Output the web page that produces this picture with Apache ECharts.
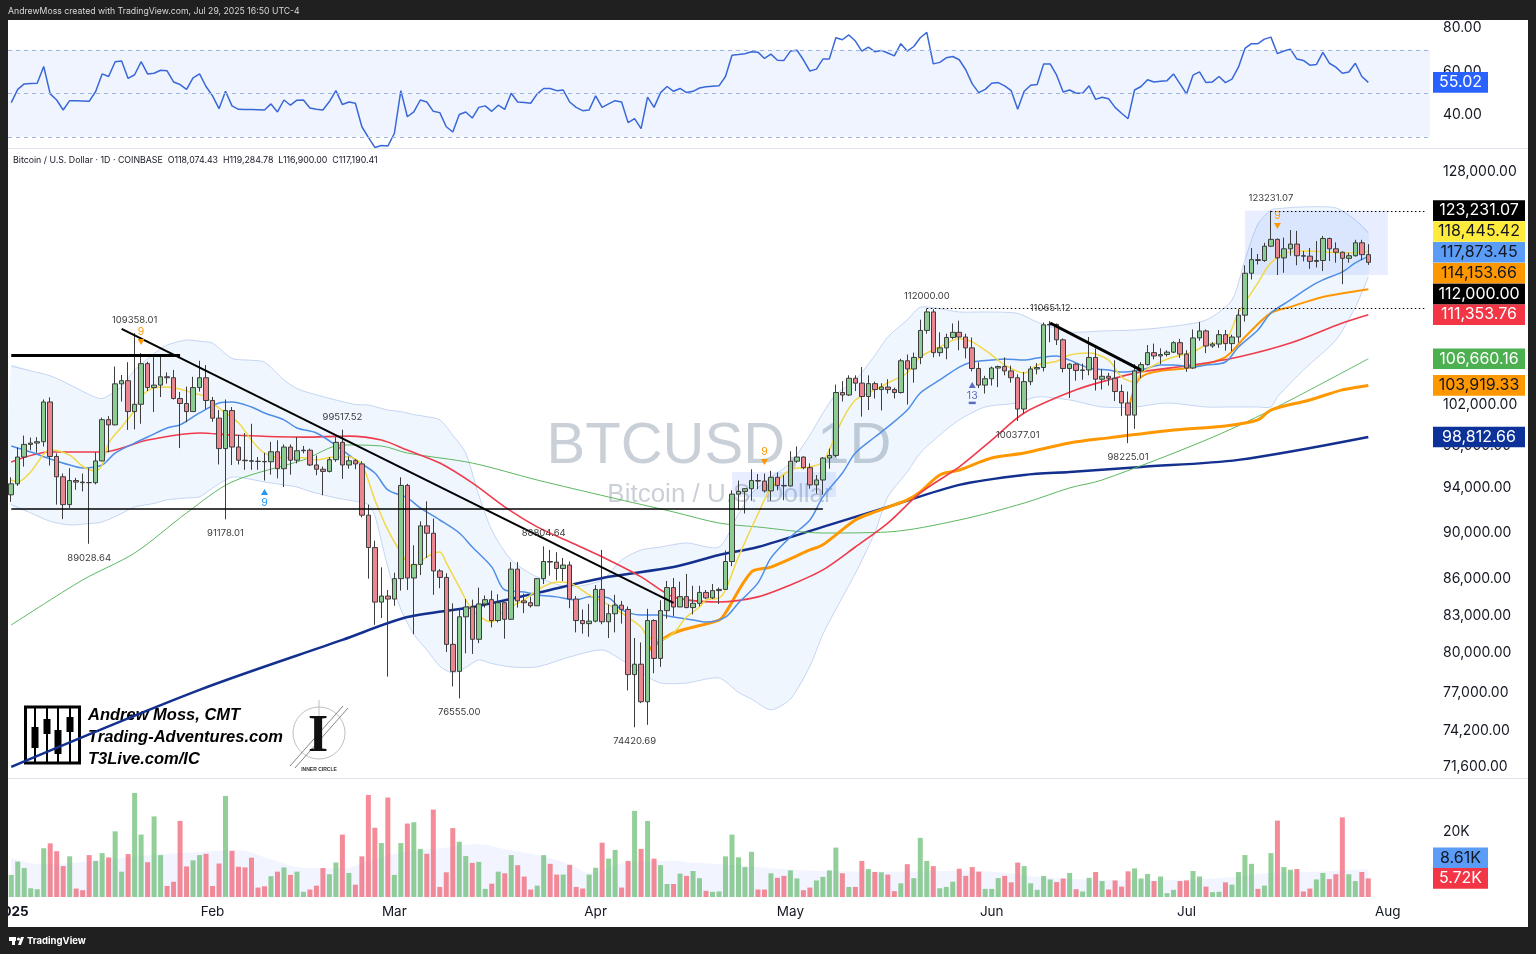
<!DOCTYPE html>
<html>
<head>
<meta charset="utf-8">
<title>BTCUSD 1D</title>
<script src="https://cdn.jsdelivr.net/npm/echarts@6.0.0/dist/echarts.min.js"></script>
<style>
html, body { margin: 0; padding: 0; background: #202020; }
#chart { width: 1536px; height: 954px; }
</style>
</head>
<body>
<div id="chart"></div>
<script>
// ---------- daily candles, 2025-01-01 .. 2025-07-29 (Coinbase BTC/USD) ----------
const opens = [
  93390, 94400, 96900, 98100, 98230, 98360, 102250, 96950, 95050, 92500,
  94700, 94560, 94520, 94500, 96530, 100500, 99990, 104080, 104400, 101300,
  102020, 106150, 103700, 103950, 104800, 104700, 102600, 102100, 101300, 103700,
  104700, 102400, 100650, 97700, 101400, 97850, 96600, 96550, 96500, 96480,
  96450, 97400, 95800, 97850, 96600, 97500, 97550, 96150, 95750, 95550,
  96650, 98300, 96150, 96550, 96250, 91550, 88700, 84100, 84600, 84350,
  86050, 94250, 86100, 87250, 90600, 89950, 86700, 86150, 80700, 78600,
  82900, 83700, 81100, 83950, 84300, 82600, 84050, 82700, 86850, 84200,
  84050, 83800, 86050, 87500, 87450, 86900, 87200, 84350, 82600, 82350,
  82550, 85150, 82500, 83150, 83850, 83500, 78350, 79150, 76300, 82600,
  79600, 83400, 85300, 83700, 84550, 83650, 84000, 84900, 84450, 85050,
  85150, 87500, 93450, 93700, 93950, 94700, 94650, 93750, 95000, 94250,
  94200, 96500, 96900, 95900, 94300, 94750, 96800, 97050, 103200, 102950,
  104650, 104150, 102800, 104100, 103500, 103750, 103500, 103200, 106450, 105600,
  106800, 109650, 111650, 107300, 107800, 108900, 109450, 108950, 107800, 105650,
  103950, 104600, 105700, 105850, 105400, 104700, 101550, 104300, 105600, 105750,
  110250, 110300, 108650, 105650, 106100, 105450, 105500, 106800, 104550, 104850,
  104650, 103300, 102150, 100950, 105400, 106050, 107300, 106950, 107100, 107350,
  108350, 107150, 105700, 108850, 109600, 108000, 108200, 109200, 108250, 108950,
  111300, 115950, 117500, 117400, 119050, 119850, 117700, 118750, 119300, 117950,
  117900, 117300, 117400, 119950, 118750, 118350, 117650, 117950, 119450, 118074.43
];
const highs = [
  95000, 97800, 98950, 98750, 98800, 102500, 102720, 97250, 95350, 95850,
  94950, 95350, 95850, 97350, 100700, 100850, 105850, 104980, 106300, 109358.01,
  107250, 106350, 106850, 107100, 105250, 105500, 103250, 103800, 104800, 106450,
  106000, 102750, 101450, 102500, 101750, 99000, 99200, 100100, 96900, 97300,
  98350, 98500, 98100, 98100, 98800, 97950, 97700, 97050, 96000, 96900,
  98800, 99517.52, 96950, 96700, 96500, 92500, 89300, 87000, 85100, 86550,
  95000, 94400, 88900, 91000, 92800, 91250, 86850, 86500, 84000, 83600,
  84350, 84300, 85300, 84650, 85050, 84750, 84050, 87450, 87450, 84800,
  84550, 86100, 88804.64, 88500, 88300, 87800, 87500, 84600, 83500, 83950,
  85500, 88500, 83900, 84700, 84200, 83750, 81200, 80850, 83550, 82700,
  84250, 85850, 86100, 85800, 86450, 85450, 85450, 85100, 85600, 85300,
  88450, 93800, 94700, 94000, 95750, 95300, 95350, 95600, 95450, 95200,
  97450, 97900, 96950, 96300, 95200, 96900, 97700, 104000, 104350, 104950,
  104950, 105800, 104950, 104300, 104150, 104550, 103700, 106650, 107100, 107300,
  110800, 112000, 111950, 109450, 109300, 110400, 110700, 109300, 108900, 106300,
  104900, 105850, 105950, 106800, 105950, 105050, 105300, 105900, 106200, 110500,
  110651.12, 110400, 108800, 106200, 106200, 106150, 108950, 107750, 105550, 105200,
  106500, 104000, 103300, 106100, 106300, 108100, 108250, 107750, 107550, 108500,
  108750, 107550, 109750, 110550, 109750, 108400, 109700, 109700, 109200, 111950,
  116850, 118850, 118150, 119450, 123231.07, 119950, 120050, 120950, 120850, 118500,
  118850, 119650, 120250, 120050, 119500, 118450, 118300, 119800, 119800, 119284.78
];
const lows = [
  92750, 94200, 96000, 97550, 97300, 97900, 96100, 92500, 91200, 92200,
  93850, 93700, 89028.64, 94350, 96500, 97350, 99950, 102300, 99500, 99550,
  100100, 103350, 101250, 102750, 104100, 102500, 97750, 100250, 101300, 103300,
  101550, 100300, 96200, 91178.01, 96150, 96200, 95700, 95700, 95700, 94700,
  95250, 94900, 94100, 95250, 96300, 97250, 96050, 95200, 93350, 95450,
  96450, 94850, 95800, 95750, 91350, 86050, 82250, 82800, 78200, 83800,
  85050, 85100, 81500, 86350, 87800, 84700, 85250, 80100, 77450, 76555,
  80000, 79950, 80800, 83650, 82050, 82450, 81150, 82650, 83650, 83200,
  83650, 83800, 85600, 86300, 85900, 85850, 83600, 81650, 81550, 81300,
  82450, 82300, 81200, 81650, 82350, 77150, 74420.69, 76200, 74600, 78450,
  78950, 82750, 82950, 83700, 83600, 83100, 83750, 84350, 84350, 83950,
  85150, 87100, 92000, 91700, 92850, 93900, 93600, 92850, 93800, 92900,
  94150, 96350, 95750, 93950, 93500, 93400, 95800, 96900, 102300, 102850,
  103350, 100800, 101450, 102600, 101400, 103100, 102600, 103100, 102000, 104200,
  106100, 109300, 106800, 106900, 106600, 108700, 107550, 106700, 105350, 103650,
  103100, 103900, 103750, 104950, 104200, 100377.01, 101100, 103950, 105050, 105350,
  108400, 108100, 105250, 102650, 104400, 104500, 104950, 103400, 103500, 103900,
  102350, 100850, 98225.01, 99600, 104650, 105950, 106600, 106100, 106900, 107250,
  106750, 105300, 105600, 108550, 107250, 107800, 107800, 107500, 107450, 108350,
  110600, 115250, 116950, 117250, 118950, 115750, 116000, 117950, 116850, 117300,
  116450, 116600, 116200, 117350, 117150, 114723, 117150, 117850, 117450, 116900
];
const closes = [
  94400, 96900, 98100, 98230, 98360, 102250, 96950, 95050, 92500, 94700,
  94560, 94500, 94500, 96530, 100500, 99990, 104080, 104400, 101300, 102020,
  106150, 103700, 103950, 104800, 104700, 102600, 102100, 101300, 103700, 104700,
  102400, 100650, 97700, 101400, 97850, 96600, 96550, 96500, 96480, 96450,
  97400, 95800, 97850, 96600, 97500, 97550, 96150, 95750, 95550, 96650,
  98300, 96150, 96550, 96250, 91550, 88700, 84100, 84600, 84350, 86050,
  94250, 86100, 87250, 90600, 89950, 86700, 86150, 80700, 78600, 82900,
  83700, 81100, 83950, 84300, 82600, 84050, 82700, 86850, 84200, 84050,
  83800, 86050, 87500, 87450, 86900, 87200, 84350, 82600, 82350, 82550,
  85150, 82500, 83150, 83850, 83500, 78350, 79150, 76300, 82600, 79600,
  83400, 85300, 83700, 84550, 83650, 84000, 84900, 84450, 85050, 85150,
  87500, 93450, 93700, 93950, 94700, 94650, 93750, 95000, 94250, 94200,
  96500, 96900, 95900, 94300, 94750, 96800, 97050, 103200, 102950, 104650,
  104150, 102800, 104100, 103500, 103750, 103500, 103200, 106450, 105600, 106800,
  109650, 111650, 107300, 107800, 108900, 109450, 108950, 107800, 105650, 103950,
  104600, 105700, 105850, 105400, 104700, 101550, 104300, 105600, 105750, 110250,
  110300, 108650, 105650, 106100, 105450, 105500, 106800, 104550, 104850, 104650,
  103300, 102150, 100950, 105400, 106050, 107300, 106950, 107100, 107350, 108350,
  107150, 105700, 108850, 109600, 108000, 108200, 109200, 108250, 108950, 111300,
  115950, 117500, 117400, 119050, 119850, 117700, 118750, 119300, 117950, 117900,
  117300, 117400, 119950, 118750, 118350, 117650, 117950, 119450, 118074.43, 117190.41
];

// daily volume, thousands of BTC
const volumes = [
  6.8, 10.9, 8.9, 2.7, 2.4, 15.0, 16.5, 14.1, 9.5, 12.5,
  2.6, 2.1, 12.9, 11.1, 13.5, 12.2, 20.2, 7.8, 13.2, 32.0,
  19.2, 10.7, 24.8, 12.9, 3.4, 4.7, 23.4, 9.4, 11.3, 12.9,
  13.3, 3.4, 10.3, 31.1, 14.2, 9.3, 9.1, 12.1, 2.9, 3.3,
  6.4, 7.8, 9.1, 6.8, 7.8, 1.6, 2.3, 3.5, 8.9, 7.0,
  10.6, 19.2, 7.4, 3.8, 12.5, 31.4, 21.3, 16.6, 30.6, 6.8,
  16.6, 22.6, 23.0, 14.8, 13.3, 26.9, 3.1, 7.6, 21.2, 17.0,
  12.6, 10.5, 10.8, 2.5, 4.1, 7.8, 7.3, 12.9, 9.8, 6.3,
  2.3, 3.5, 12.9, 10.2, 6.9, 6.9, 9.9, 3.1, 2.6, 6.9,
  9.0, 16.7, 11.8, 14.5, 2.9, 11.1, 26.5, 14.8, 23.4, 11.8,
  9.8, 4.0, 4.0, 7.2, 6.5, 8.0, 5.8, 1.9, 1.6, 1.7,
  12.5, 19.2, 12.2, 9.2, 13.9, 2.3, 2.3, 7.3, 5.9, 6.5,
  8.2, 5.7, 2.1, 2.9, 5.1, 6.2, 8.2, 15.2, 7.3, 3.1,
  3.1, 11.1, 8.6, 7.7, 7.6, 6.9, 1.8, 4.2, 10.1, 5.8,
  18.2, 11.1, 9.5, 2.7, 3.1, 4.7, 8.7, 6.5, 9.2, 7.8,
  2.5, 2.5, 5.8, 6.5, 4.5, 10.6, 9.5, 4.2, 2.2, 6.5,
  5.4, 4.6, 5.7, 7.4, 2.4, 1.7, 5.9, 7.7, 4.9, 2.3,
  5.1, 3.2, 7.9, 8.8, 5.7, 7.1, 4.9, 6.3, 1.2, 2.2,
  4.9, 5.1, 8.0, 6.3, 3.2, 1.5, 1.6, 4.5, 3.8, 7.7,
  12.9, 10.2, 2.5, 3.5, 13.5, 23.5, 9.2, 8.4, 8.6, 1.7,
  2.6, 5.4, 7.4, 5.5, 7.0, 24.5, 7.0, 4.9, 7.7, 5.72
];

// RSI(14)
const rsiValues = [
  45.7, 51.8, 54.3, 54.5, 54.6, 62.3, 49.7, 46.9, 42.3, 46.6,
  46.5, 46.4, 46.3, 50.8, 58.9, 57.7, 64.5, 64.8, 56.8, 58.5,
  64.5, 58.9, 59.2, 60.6, 60.3, 55.2, 54.0, 51.8, 57.1, 58.9,
  53.1, 48.8, 42.9, 50.9, 44.2, 42.6, 42.5, 42.5, 42.4, 42.3,
  45.1, 41.4, 46.9, 44.5, 46.8, 46.9, 43.2, 42.6, 42.3, 46.2,
  51.2, 44.8, 46.0, 45.4, 34.6, 29.7, 25.1, 26.0, 25.7, 31.5,
  51.2, 39.2, 41.4, 46.9, 46.0, 41.7, 41.1, 34.6, 32.2, 40.2,
  41.4, 38.6, 43.5, 44.2, 41.7, 44.5, 42.6, 50.0, 46.0, 45.8,
  45.4, 49.7, 52.2, 52.2, 51.2, 51.5, 46.0, 43.5, 42.0, 42.3,
  48.8, 43.5, 45.1, 46.6, 46.0, 36.5, 38.3, 33.7, 48.2, 43.5,
  50.3, 53.1, 50.9, 52.2, 50.3, 50.9, 52.4, 53.0, 53.2, 53.4,
  57.7, 67.5, 67.8, 68.2, 69.1, 68.9, 66.0, 68.0, 65.2, 65.1,
  69.4, 69.8, 65.4, 60.2, 61.1, 65.7, 65.8, 75.5, 74.6, 76.8,
  74.0, 69.4, 71.2, 69.1, 69.7, 68.5, 67.2, 72.8, 69.4, 71.5,
  75.5, 78.0, 63.5, 64.2, 66.3, 66.9, 65.4, 60.8, 54.3, 50.3,
  51.8, 54.6, 54.9, 53.4, 51.2, 42.6, 50.9, 53.7, 54.0, 63.5,
  63.5, 58.3, 50.6, 51.5, 50.0, 50.0, 53.4, 47.2, 48.2, 47.5,
  43.5, 40.8, 38.3, 51.5, 53.1, 56.2, 55.2, 55.5, 55.8, 58.9,
  54.3, 49.7, 58.3, 59.8, 54.9, 55.2, 57.7, 54.9, 56.5, 62.0,
  70.6, 72.8, 72.8, 74.9, 75.8, 68.2, 69.4, 70.3, 65.7, 65.1,
  62.9, 63.2, 68.8, 63.8, 62.0, 59.2, 59.8, 63.8, 57.7, 55.02
];

// ---------- overlays, [day index, value] ----------
const ema8 = [[0,94750],[1,94560],[3,95500],[5,97180],[6,97560],[9,97080],[11,96030],[13,95580],[14,96150],[15,98230],[17,99790],[19,101450],[20,102780],[22,103670],[24,103770],[26,103560],[28,103150],[30,102780],[31,102150],[33,101160],[35,100190],[37,98520],[39,97270],[42,96820],[45,96820],[47,96630],[50,96920],[52,96920],[54,96150],[56,92930],[58,90240],[61,87380],[62,87030],[64,87900],[66,88320],[67,87380],[69,85360],[71,83460],[74,82480],[76,83460],[79,84280],[81,85100],[84,85770],[86,85690],[89,84690],[92,83870],[94,83220],[97,82080],[98,81290],[100,81050],[102,81600],[104,82880],[106,83700],[107,84280],[109,84440],[110,85100],[112,87900],[115,91660],[117,94000],[120,95680],[123,95970],[125,96440],[128,100480],[130,102450],[133,103460],[135,104170],[138,105210],[140,106840],[143,107900],[146,108760],[148,108440],[151,107050],[153,106010],[156,105180],[158,106000],[161,106400],[163,107050],[166,107260],[169,106520],[171,104780],[173,104260],[174,105180],[177,106320],[179,106840],[182,107370],[184,108100],[187,108630],[189,111540],[192,114860],[194,117130],[197,118410],[200,118510],[202,118410],[205,118270],[209,118445.42]];
const ema21 = [[0,97950],[3,97370],[6,96720],[9,96150],[11,95870],[14,96150],[16,97270],[19,98230],[21,98810],[24,99690],[26,99990],[29,101160],[32,102150],[34,102250],[37,101750],[39,101160],[42,100480],[44,99690],[47,99200],[50,98000],[53,96630],[56,95400],[58,93840],[61,93110],[63,92200],[66,91120],[69,89970],[71,88750],[74,87040],[76,85100],[79,84940],[81,84690],[84,84530],[87,84280],[89,84530],[92,84440],[94,83460],[97,83050],[100,83050],[102,82880],[105,82640],[107,82480],[110,82880],[112,84030],[115,85690],[117,87810],[120,89620],[123,91120],[125,93200],[128,95400],[130,97270],[133,98810],[135,99790],[138,101450],[140,103150],[143,104470],[146,105800],[148,106320],[151,106520],[153,106630],[156,106520],[158,106730],[161,106940],[163,106520],[166,105700],[169,105490],[171,105280],[174,105490],[177,106010],[179,106010],[182,105800],[184,106010],[187,106320],[189,107900],[192,109700],[194,111540],[197,112960],[200,114420],[202,115200],[205,116100],[207,117130],[209,117873.45]];
const sma50 = [[0,96430],[6,97370],[14,97370],[21,98520],[29,99200],[34,99000],[45,98800],[52,98900],[57,98520],[61,97560],[66,96330],[71,94480],[76,92290],[81,90510],[87,88940],[92,87630],[97,86200],[102,84530],[109,84110],[115,84530],[120,85520],[125,86790],[130,88750],[135,90850],[140,93560],[146,95970],[151,98520],[156,101160],[164,103470],[169,104480],[174,105300],[182,106010],[189,106840],[197,108310],[205,110450],[209,111353.76]];
const sma100 = [[0,82240],[11,85940],[19,88230],[27,91750],[34,94570],[45,96630],[51,98050],[57,97950],[61,97280],[71,96330],[81,94750],[92,93190],[102,91840],[109,90850],[115,90500],[125,89970],[135,90060],[146,91120],[156,92640],[163,94020],[168,94750],[184,98520],[194,101450],[209,106660.16]];
const sma200 = [[0,71600],[29,77190],[51,81050],[61,82880],[71,83690],[81,84860],[92,86200],[102,87030],[109,88060],[115,88750],[125,90510],[135,92290],[146,94300],[156,95220],[163,95500],[174,95970],[189,96630],[209,98812.66]];
const vwapApril = [[98,80200],[102,81600],[109,82640],[110,83220],[114,86610],[117,87030],[123,88490],[125,88940],[130,91120],[133,91840],[138,92920],[140,93650],[143,95220],[146,95680],[151,96810],[156,97280],[163,98240],[169,98730],[179,99500],[187,99890],[192,100480],[194,101450],[200,102450],[205,103470],[209,103919.33]];
const vwapJune = [[172,101160],[174,104780],[182,105800],[187,106840],[190,108950],[194,111540],[197,112200],[202,113300],[209,114153.66]];

// Bollinger band envelope
const bbDays  = [0,3,6,9,12,14,17,19,22,24,27,29,31,34,37,39,42,44,46,50,53,55,56,58,60,62,64,66,68,70,72,74,77,81,86,91,94,97,100,104,109,112,114,117,120,123,125,127,130,133,135,138,140,143,146,150,155,158,163,168,173,178,184,188,190,192,194,195,199,204,207,209];
const bbUpper = [105900,105400,104900,104000,103000,102600,103800,105490,107200,108100,108630,108500,108300,106700,106500,106320,104470,103600,103150,102450,102000,101950,101800,101450,101300,101000,100800,100480,99000,97270,93380,90240,87630,86190,85360,85940,87630,88490,88750,89100,88750,91660,93500,95000,96340,99000,101160,103000,104470,107000,108960,110800,112170,112000,111650,111650,111500,110550,109490,109600,109700,110020,110770,112960,117470,121660,123340,123500,123710,123590,122140,120600];
const bbLower = [92500,91750,91000,90680,90800,90940,91700,92290,92600,92930,93100,93200,94000,95020,94800,94560,94300,94100,93700,93110,92800,92500,91500,87000,83500,81500,80260,79000,78480,78900,79480,79200,78940,78940,79710,80260,79480,78480,77710,77710,78090,77000,76500,75700,76500,79000,81500,83500,86500,90000,93200,95500,97270,99000,100480,101750,102150,102760,102450,101750,101750,102150,101750,101750,101750,101750,101750,102760,105490,108630,112170,115540];

// 20-day volume average (thousands)
const volAvg = [[0,11.9],[5,10.0],[12,11.0],[19,12.5],[27,13.6],[35,14.4],[40,11.6],[45,9.0],[51,8.8],[55,11.0],[60,13.6],[67,15.2],[72,16.2],[76,14.7],[81,12.9],[86,10.0],[89,7.5],[95,10.6],[102,11.1],[105,10.6],[110,10.0],[125,8.0],[139,7.8],[146,8.0],[153,7.5],[160,5.9],[173,5.1],[180,5.3],[187,5.9],[194,7.5],[201,7.8],[209,8.61]];

// drawn trendlines: [startDay, startPrice, endDay, endPrice, width]
const trendLines = [
  [0, 107060, 26, 107060, 3],
  [17, 109810, 102, 84030, 2],
  [0, 92150, 125, 92150, 1.5],
  [160, 110450, 174, 105490, 3]
];
// swing high / low tags
const swingHighs = [19, 51, 82, 141, 160, 194];
const swingLows = [12, 33, 69, 96, 155, 172];
// sequential count marks: [day, price, text, direction, colour]
const countMarks = [
  [20, 108420, '9', 'down', '#ff9800'],
  [39, 93650, '9', 'up', '#2196f3'],
  [116, 96430, '9', 'down', '#ff9800'],
  [148, 103960, '13', 'up', '#5c6bc0'],
  [195, 121420, '9', 'down', '#ff9800']
];
// shaded ranges: [startDay, endDay, top, bottom]
const rangeBoxes = [
  [190, 212, 123231.07, 115750],
  [111, 127, 95500, 93200]
];

// axis tick labels
const priceTicks = [71600, 74200, 77000, 80000, 83000, 86000, 90000, 94000, 98000, 102000, 128000];
const rsiTicks = [40, 60, 80];
const volTicks = [20];

// calendar: Jan 1 .. Aug 7, 2025
const dates = [];
for (let i = 0; i < 219; i++) {
  const d = new Date(Date.UTC(2025, 0, 1 + i));
  dates.push(d.toISOString().slice(0, 10));
}
const monthNames = ['Jan','Feb','Mar','Apr','May','Jun','Jul','Aug','Sep','Oct','Nov','Dec'];

// ---------- chart ----------
const UI = 'Inter, "Noto Sans", "Liberation Sans", sans-serif';
const fmt2 = v => v.toLocaleString('en-US', { minimumFractionDigits: 2, maximumFractionDigits: 2 });
const last = arr => arr[arr.length - 1][1];

const candleData = opens.map((o, i) => [o, closes[i], lows[i], highs[i]]);
const volData = volumes.map((v, i) => ({
  value: v,
  itemStyle: { color: closes[i] >= opens[i] ? 'rgba(104,188,114,0.72)' : 'rgba(238,96,112,0.72)' }
}));

const chart = echarts.init(document.getElementById('chart'), null, { renderer: 'canvas' });

const axisLabelBase = { color: '#131722', fontSize: 14, fontFamily: UI, margin: 13, align: 'left' };

function overlay(name, pts, color, width, z) {
  return {
    name, type: 'line', xAxisIndex: 1, yAxisIndex: 1, data: pts,
    symbol: 'none', smooth: 0.3, connectNulls: true, silent: true,
    lineStyle: { color, width }, z: z || 3
  };
}

const markerPoints = [];
swingHighs.forEach(d => markerPoints.push({
  coord: [d, highs[d]], symbol: 'circle', symbolSize: 0,
  label: { show: true, position: 'top', distance: 8, formatter: highs[d].toFixed(2), color: '#3a3a3a', fontSize: 9.5, fontFamily: UI }
}));
swingLows.forEach(d => markerPoints.push({
  coord: [d, lows[d]], symbol: 'circle', symbolSize: 0,
  label: { show: true, position: 'bottom', distance: 9, formatter: lows[d].toFixed(2), color: '#3a3a3a', fontSize: 9.5, fontFamily: UI }
}));
countMarks.forEach(([d, p, txt, dir, col]) => {
  markerPoints.push({
    coord: [d, p], symbol: 'triangle', symbolRotate: dir === 'down' ? 180 : 0, symbolSize: [7, 6],
    itemStyle: { color: col },
    label: { show: true, position: dir === 'down' ? 'top' : 'bottom', distance: 2, formatter: txt, color: col, fontSize: 10.5, fontFamily: UI }
  });
  if (txt === '13') {
    markerPoints.push({ coord: [d, 102160], symbol: 'rect', symbolSize: [7, 2.5], itemStyle: { color: col }, label: { show: false } });
  }
});

const option = {
  backgroundColor: '#ffffff',
  animation: false,
  textStyle: { fontFamily: UI },
  grid: [
    { left: 8, right: 106, top: 20, height: 128, outerBoundsMode: 'none', containLabel: false },
    { left: 8, right: 106, top: 150, height: 628, outerBoundsMode: 'none', containLabel: false },
    { left: 8, right: 106, top: 780, height: 117, outerBoundsMode: 'none', containLabel: false }
  ],
  xAxis: [0, 1, 2].map(i => ({
    type: 'category', gridIndex: i, data: dates, boundaryGap: true,
    axisLine: { show: false }, axisTick: { show: false }, splitLine: { show: false },
    axisLabel: i === 2 ? {
      show: true, color: '#131722', fontSize: 13.5, fontFamily: UI, margin: 8,
      interval: (idx, val) => val.slice(8) === '01',
      formatter: val => val === '2025-01-01' ? '{y|2025}' : monthNames[+val.slice(5, 7) - 1],
      rich: { y: { fontWeight: 'bold', fontSize: 13.5, color: '#131722', fontFamily: UI } }
    } : { show: false }
  })),
  yAxis: [
    {
      type: 'value', gridIndex: 0, position: 'right', min: 24.83, max: 83.68,
      axisLine: { show: false }, axisTick: { show: false }, splitLine: { show: false },
      axisLabel: Object.assign({ customValues: rsiTicks, formatter: v => v.toFixed(2) }, axisLabelBase)
    },
    {
      type: 'log', logBase: 10, gridIndex: 1, position: 'right', min: 70826, max: 130779,
      axisLine: { show: false }, axisTick: { show: false }, splitLine: { show: false },
      axisLabel: Object.assign({ customValues: priceTicks, formatter: v => fmt2(v) }, axisLabelBase)
    },
    {
      type: 'value', gridIndex: 2, position: 'right', min: 0, max: 36,
      axisLine: { show: false }, axisTick: { show: false }, splitLine: { show: false },
      axisLabel: Object.assign({ customValues: volTicks, formatter: v => v + 'K' }, axisLabelBase)
    }
  ],
  series: [
    // RSI pane
    {
      name: 'RSI', type: 'line', xAxisIndex: 0, yAxisIndex: 0, data: rsiValues,
      symbol: 'none', silent: true, lineStyle: { color: '#3868d8', width: 1.5 }, z: 3,
      markArea: { silent: true, itemStyle: { color: 'rgba(41,98,255,0.07)' }, data: [[{ yAxis: 30 }, { yAxis: 70 }]] },
      markLine: {
        silent: true, symbol: ['none', 'none'], label: { show: false },
        lineStyle: { color: '#9db5e3', type: [4, 4], width: 1 },
        data: [{ yAxis: 70 }, { yAxis: 50 }, { yAxis: 30 }]
      }
    },
    // Bollinger envelope
    {
      name: 'BB', type: 'custom', xAxisIndex: 1, yAxisIndex: 1, z: 1, silent: true, clip: true,
      data: [[0, 100000]],
      renderItem: (params, api) => {
        const up = bbDays.map((d, i) => api.coord([d, bbUpper[i]]));
        const lo = bbDays.map((d, i) => api.coord([d, bbLower[i]]));
        return {
          type: 'group',
          children: [
            { type: 'polygon', shape: { points: up.concat(lo.slice().reverse()), smooth: 0.25 }, style: { fill: 'rgba(33,120,243,0.065)', stroke: null } },
            { type: 'polyline', shape: { points: up, smooth: 0.25 }, style: { stroke: 'rgba(70,120,210,0.28)', lineWidth: 1, fill: null } },
            { type: 'polyline', shape: { points: lo, smooth: 0.25 }, style: { stroke: 'rgba(70,120,210,0.28)', lineWidth: 1, fill: null } }
          ]
        };
      }
    },
    // shaded ranges
    {
      name: 'ranges', type: 'line', xAxisIndex: 1, yAxisIndex: 1, data: [], z: 1, silent: true,
      markArea: {
        silent: true, itemStyle: { color: 'rgba(41,98,255,0.11)' },
        data: rangeBoxes.map(([d0, d1, top, bot]) => [{ coord: [d0, top] }, { coord: [d1, bot] }])
      }
    },
    overlay('SMA 200', sma200, '#13308f', 2.5, 2),
    overlay('SMA 100', sma100, '#5cb860', 1, 2),
    overlay('VWAP Apr', vwapApril, '#ff9800', 3, 2),
    overlay('VWAP Jun', vwapJune, '#ff9800', 2, 2),
    overlay('SMA 50', sma50, '#ef3b4c', 1.6, 2),
    overlay('EMA 21', ema21, '#4f8ee6', 1.5, 3),
    overlay('EMA 8', ema8, '#f2d846', 1.5, 3),
    // candles
    {
      name: 'BTCUSD', type: 'candlestick', xAxisIndex: 1, yAxisIndex: 1, data: candleData,
      barWidth: 5, z: 4, silent: true,
      itemStyle: { color: '#8ccb91', color0: '#ea8690', borderColor: '#3d3d3d', borderColor0: '#3d3d3d', borderWidth: 1 }
    },
    // drawings and tags
    {
      name: 'drawings', type: 'line', xAxisIndex: 1, yAxisIndex: 1, data: [], z: 6, silent: true,
      markLine: {
        silent: true, symbol: ['none', 'none'], label: { show: false },
        data: trendLines.map(([d0, p0, d1, p1, w]) => [
          { coord: [d0, p0], lineStyle: { color: '#000000', width: w, type: 'solid' } },
          { coord: [d1, p1] }
        ]).concat([
          [{ coord: [194, highs[194]], lineStyle: { color: '#000000', width: 1.2, type: [1.5, 2.5] } }, { coord: [218, highs[194]] }],
          [{ coord: [141, highs[141]], lineStyle: { color: '#000000', width: 1.2, type: [1.5, 2.5] } }, { coord: [218, highs[141]] }]
        ])
      },
      markPoint: { silent: true, data: markerPoints }
    },
    // volume pane
    {
      name: 'Vol avg', type: 'line', xAxisIndex: 2, yAxisIndex: 2, data: volAvg,
      symbol: 'none', smooth: 0.4, silent: true, z: 1,
      lineStyle: { width: 0 }, areaStyle: { color: 'rgba(41,98,255,0.09)' }
    },
    {
      name: 'Volume', type: 'bar', xAxisIndex: 2, yAxisIndex: 2, data: volData,
      barWidth: 5, z: 2, silent: true
    }
  ]
};

chart.setOption(option);

// ---------- price tags on the scales, header, frame ----------
const yPix = (axis, v) => chart.convertToPixel({ yAxisIndex: axis }, v);

function stack(items, h) {
  items.sort((a, b) => b.y - a.y);
  let prev = Infinity;
  items.forEach(it => { it.y = Math.min(it.y, prev - h); prev = it.y; });
  return items;
}
function tag(x, y, w, text, bg, fg) {
  return [
    { type: 'rect', z: 100, silent: true, shape: { x: x, y: y - 10.3, width: w, height: 20.6 }, style: { fill: bg } },
    { type: 'text', z: 101, silent: true, x: x + w / 2, y: y,
      style: { text: text, fill: fg, font: '16px ' + UI, textAlign: 'center', textVerticalAlign: 'middle', align: 'center', verticalAlign: 'middle' } }
  ];
}
function txt(x, y, text, font, fill, align, z) {
  return { type: 'text', z: z == null ? 101 : z, silent: true, x: x, y: y,
    style: { text: text, font: font, fill: fill, textAlign: align || 'left', textVerticalAlign: 'middle', align: align || 'left', verticalAlign: 'middle' } };
}

const priceTags = stack([
  { v: highs[194], bg: '#000000', fg: '#ffffff' },
  { v: last(ema8), bg: '#ffeb3b', fg: '#131722' },
  { v: last(ema21), bg: '#5b9cf6', fg: '#131722' },
  { v: last(vwapJune), bg: '#ff9800', fg: '#131722' },
  { v: highs[141], bg: '#000000', fg: '#ffffff' },
  { v: last(sma50), bg: '#f23645', fg: '#ffffff' },
  { v: last(sma100), bg: '#4caf50', fg: '#ffffff' },
  { v: last(vwapApril), bg: '#ff9800', fg: '#131722' },
  { v: last(sma200), bg: '#0c3299', fg: '#ffffff' }
].map(t => Object.assign(t, { y: yPix(1, t.v) })), 20.8);

const volTags = stack([
  { v: last(volAvg), text: last(volAvg).toFixed(2) + 'K', bg: '#5b9cf6', fg: '#131722' },
  { v: volumes[volumes.length - 1], text: volumes[volumes.length - 1].toFixed(2) + 'K', bg: '#f23645', fg: '#ffffff' }
].map(t => Object.assign(t, { y: yPix(2, t.v) })), 20.6);

const rsiLast = rsiValues[rsiValues.length - 1];

let g = [];
// watermark
g.push(txt(719, 447, 'BTCUSD, 1D', '58px "Liberation Sans", Arial, sans-serif', 'rgba(100,120,140,0.35)', 'center', 0));
g.push(txt(720, 495, 'Bitcoin / U.S. Dollar', '26px "Liberation Sans", Arial, sans-serif', 'rgba(100,120,140,0.35)', 'center', 0));

// author block
const logoZ = 1;
g.push({ type: 'rect', z: logoZ, silent: true, shape: { x: 25.5, y: 707, width: 54, height: 56 }, style: { fill: '#ffffff', stroke: '#000000', lineWidth: 3 } });
[35, 47, 58, 70].forEach(x => g.push({ type: 'line', z: logoZ, silent: true, shape: { x1: x, y1: 707, x2: x, y2: 763 }, style: { stroke: '#000000', lineWidth: 2 } }));
[[31.5, 727, 7, 21], [43.5, 719, 7, 15], [54.5, 730, 7, 24], [66.5, 717, 7, 15]].forEach(([x, y, w, h]) =>
  g.push({ type: 'rect', z: logoZ, silent: true, shape: { x: x, y: y, width: w, height: h }, style: { fill: '#000000' } }));
const logoFont = 'italic bold 16.5px "Liberation Sans", Arial, sans-serif';
g.push(txt(88, 715, 'Andrew Moss, CMT', logoFont, '#000000', 'left', logoZ));
g.push(txt(88, 737, 'Trading-Adventures.com', logoFont, '#000000', 'left', logoZ));
g.push(txt(88, 759, 'T3Live.com/IC', logoFont, '#000000', 'left', logoZ));
g.push({ type: 'circle', z: logoZ, silent: true, shape: { cx: 319, cy: 733, r: 26 }, style: { fill: 'none', stroke: '#b0b0b0', lineWidth: 0.8 } });
g.push({ type: 'line', z: logoZ, silent: true, shape: { x1: 319, y1: 700, x2: 319, y2: 745 }, style: { stroke: '#b0b0b0', lineWidth: 0.8 } });
g.push({ type: 'line', z: logoZ, silent: true, shape: { x1: 290, y1: 766, x2: 343, y2: 706 }, style: { stroke: '#777777', lineWidth: 0.9 } });
g.push({ type: 'line', z: logoZ, silent: true, shape: { x1: 295, y1: 768, x2: 348, y2: 708 }, style: { stroke: '#777777', lineWidth: 0.9 } });
g.push(txt(318, 738, 'I', 'bold 52px "Liberation Serif", "DejaVu Serif", serif', '#111111', 'center', logoZ));
g.push(txt(319, 770, 'INNER CIRCLE', 'bold 5px "Liberation Sans", sans-serif', '#333333', 'center', logoZ));

// pane separators
[148.5, 778.5].forEach(y => g.push({ type: 'line', z: 90, silent: true, shape: { x1: 8, y1: y, x2: 1528, y2: y }, style: { stroke: '#e0e3eb', lineWidth: 1 } }));

// series legend line
g.push(txt(13, 160,
  'Bitcoin / U.S. Dollar · 1D · COINBASE  O' + fmt2(opens[opens.length - 1]) + '  H' + fmt2(highs[highs.length - 1]) +
  '  L' + fmt2(lows[lows.length - 1]) + '  C' + fmt2(closes[closes.length - 1]),
  '8.8px ' + UI, '#131722', 'left', 101));

// scale tags
priceTags.forEach(t => { g = g.concat(tag(1433, t.y, 92, fmt2(t.v), t.bg, t.fg)); });
g = g.concat(tag(1433, yPix(0, rsiLast), 55, rsiLast.toFixed(2), '#2962ff', '#ffffff'));
volTags.forEach(t => { g = g.concat(tag(1433, t.y, 55, t.text, t.bg, t.fg)); });

// outer frame and captions
const frame = '#202020';
[[0, 0, 1536, 20], [0, 0, 8, 954], [1528, 0, 8, 954], [0, 927, 1536, 27]].forEach(([x, y, w, h]) =>
  g.push({ type: 'rect', z: 200, silent: true, shape: { x: x, y: y, width: w, height: h }, style: { fill: frame } }));
g.push(txt(8, 11, 'AndrewMoss created with TradingView.com, Jul 29, 2025 16:50 UTC-4', '8.7px ' + UI, '#d8d8d8', 'left', 201));
g.push({ type: 'rect', z: 201, silent: true, shape: { x: 9, y: 937, width: 7, height: 4 }, style: { fill: '#ffffff' } });
g.push({ type: 'rect', z: 201, silent: true, shape: { x: 12, y: 937, width: 3, height: 8 }, style: { fill: '#ffffff' } });
g.push({ type: 'circle', z: 201, silent: true, shape: { cx: 18.5, cy: 939, r: 1.6 }, style: { fill: '#ffffff' } });
g.push({ type: 'polygon', z: 201, silent: true, shape: { points: [[18, 945], [21, 937], [24, 937], [21, 945]] }, style: { fill: '#ffffff' } });
g.push(txt(27, 941, 'TradingView', 'bold 9.5px ' + UI, '#ffffff', 'left', 201));

chart.setOption({ graphic: { elements: g } });
</script>
</body>
</html>
